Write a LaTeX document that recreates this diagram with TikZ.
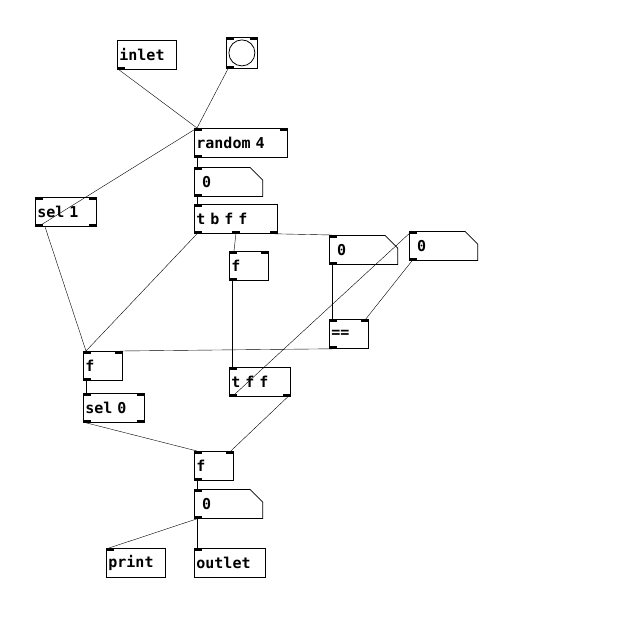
\documentclass[tikz,border=0pt]{standalone}
\usepackage{fontspec}
\setmainfont{DejaVu Sans Mono}
\usetikzlibrary{shapes.misc}
\tikzset{
	obj/.style={draw, thick, anchor=north west, inner xsep=2pt, inner ysep=0pt,
		minimum height=29pt, text width=#1, align=left,
		font=\bfseries\fontsize{15}{15}\selectfont},
	atom/.style={obj=#1, chamfered rectangle, chamfered rectangle corners=north east,
		chamfered rectangle xsep=0pt, chamfered rectangle angle=45, chamfered rectangle sep=7pt},
	wire/.style={thin}
}
\begin{document}
\begin{tikzpicture}[x=1pt,y=-1pt]
			\useasboundingbox (0,0) rectangle (632,622);
			\node[obj=55pt] (in) at (117,40) {inlet};
			\node[draw, thick, anchor=north west, minimum size=31pt, inner sep=0pt] (bng) at (226,37) {};
			\draw[thick] (bng.center) circle (13pt);
			\node[obj=89pt] (rnd) at (194,128) {random 4};
			\node[atom=53pt] (n1) at (194,167) {0};
			\node[obj=57pt] (sel1) at (35,197) {sel 1};
			\node[obj=79pt] (tbff) at (194,204) {t b f f};
			\node[obj=35pt] (fm) at (229,251) {f};
			\node[atom=53pt] (n2) at (329,235) {0};
			\node[atom=53pt] (n3) at (409,231) {0};
			\node[obj=35pt] (eq) at (329,319) {==};
			\node[obj=35pt] (fl) at (83,351) {f};
			\node[obj=57pt] (tff) at (229,367) {t f f};
			\node[obj=57pt] (sel0) at (83,393) {sel 0};
			\node[obj=35pt] (fb) at (194,451) {f};
			\node[atom=53pt] (n4) at (194,489) {0};
			\node[obj=55pt] (pr) at (106,548) {print};
			\node[obj=67pt] (out) at (194,548) {outlet};
			
			% nubs
			\foreach \n in {bng, rnd, n1, sel1, tbff, fm, n2, n3, eq, fl, tff, sel0, fb, n4, pr, out}
				\fill (\n.north west) rectangle ([xshift=8pt,yshift=-3pt]\n.north west);
			\foreach \n in {bng, rnd, sel1, fm, eq, fl, sel0, fb}
				\fill (\n.north east) rectangle ([xshift=-8pt,yshift=-3pt]\n.north east);
			\foreach \n in {in, bng, rnd, n1, sel1, tbff, fm, n2, n3, eq, fl, tff, sel0, fb, n4}
				\fill (\n.south west) rectangle ([xshift=8pt,yshift=3pt]\n.south west);
			\foreach \n in {sel1, tbff, tff, sel0}
				\fill (\n.south east) rectangle ([xshift=-8pt,yshift=3pt]\n.south east);
			\fill ([xshift=-4pt]tbff.south) rectangle ([xshift=4pt,yshift=3pt]tbff.south);
			
			% wires
			\draw[wire] ([xshift=2pt]in.south west) -- ([xshift=3pt]rnd.north west);
			\draw[wire] ([xshift=2pt]bng.south west) -- ([xshift=3pt]rnd.north west);
			\draw[wire] ([xshift=3pt]sel1.south west) -- ([xshift=3pt]rnd.north west);
			\draw[wire] ([xshift=3pt]rnd.south west) -- ([xshift=3pt]n1.north west);
			\draw[wire] ([xshift=3pt]n1.south west) -- ([xshift=3pt]tbff.north west);
			\draw[wire] ([xshift=10pt]sel1.south west) -- ([xshift=3pt]fl.north west);
			\draw[wire] ([xshift=3pt]tbff.south west) -- ([xshift=3pt]fl.north west);
			\draw[wire] (tbff.south) -- ([xshift=5pt]fm.north west);
			\draw[wire] ([xshift=-3pt]tbff.south east) -- ([xshift=3pt]n2.north west);
			\draw[wire] ([xshift=3pt]fm.south west) -- ([xshift=3pt]tff.north west);
			\draw[wire] ([xshift=3pt]n2.south west) -- ([xshift=3pt]eq.north west);
			\draw[wire] ([xshift=3pt]n3.south west) -- ([xshift=-3pt]eq.north east);
			\draw[wire] ([xshift=3pt]eq.south west) -- ([xshift=-3pt]fl.north east);
			\draw[wire] ([xshift=3pt]tff.south west) -- ([xshift=3pt]n3.north west);
			\draw[wire] ([xshift=-3pt]tff.south east) -- ([xshift=-3pt]fb.north east);
			\draw[wire] ([xshift=3pt]fl.south west) -- ([xshift=3pt]sel0.north west);
			\draw[wire] ([xshift=3pt]sel0.south west) -- ([xshift=3pt]fb.north west);
			\draw[wire] ([xshift=3pt]fb.south west) -- ([xshift=3pt]n4.north west);
			\draw[wire] ([xshift=3pt]n4.south west) -- ([xshift=3pt]pr.north west);
			\draw[wire] ([xshift=3pt]n4.south west) -- ([xshift=3pt]out.north west);
		\end{tikzpicture}
\end{document}
